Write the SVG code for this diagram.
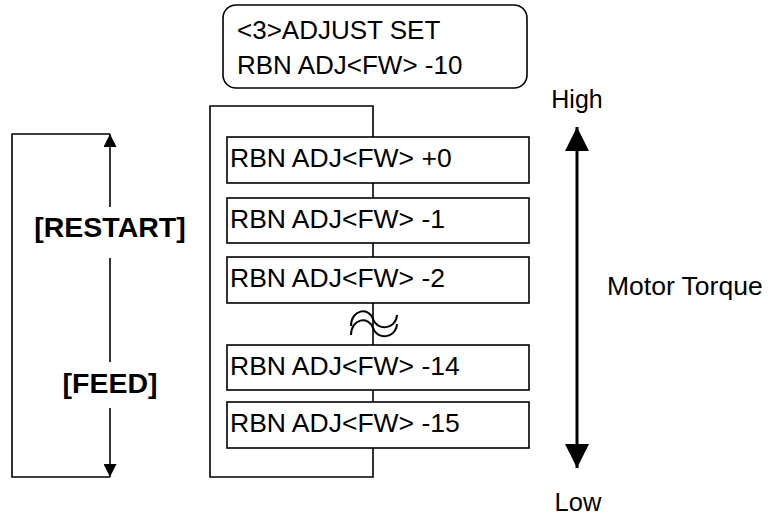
<svg xmlns="http://www.w3.org/2000/svg" width="779" height="515" viewBox="0 0 779 515">
<style>
  .t { font-family: "Liberation Sans", Arial, sans-serif; fill: #000; }
  .bx { fill: #fff; stroke: #000; stroke-width: 1.6; }
  .ln { fill: none; stroke: #000; stroke-width: 1.6; }
  .wv { fill: none; stroke: #000; stroke-width: 2; }
  .b { font-weight: bold; font-size: 28.5px; }
  .bt { font-size: 26.5px; }
</style>
<defs>
  <marker id="ah" viewBox="0 0 10 10" refX="10" refY="5" markerWidth="13" markerHeight="13" markerUnits="userSpaceOnUse" orient="auto">
    <path d="M0,0 L10,5 L0,10 Z" fill="#000"/>
  </marker>
  <marker id="ahb" viewBox="0 0 10 10" refX="10" refY="5" markerWidth="24" markerHeight="24" markerUnits="userSpaceOnUse" orient="auto">
    <path d="M0,0 L10,5 L0,10 Z" fill="#000"/>
  </marker>
</defs>

<g id="connectors">
  <!-- outer frame -->
  <path class="ln" d="M373,137 V106 H210 V477 H373 V448"/>
  <line class="ln" x1="373" y1="183" x2="373" y2="198"/>
  <line class="ln" x1="373" y1="243" x2="373" y2="257"/>
  <line class="ln" x1="373" y1="303" x2="373" y2="345"/>
  <line class="ln" x1="373" y1="390" x2="373" y2="402"/>
  <!-- break symbol -->
  <path class="wv" d="M351,326 C351,309 369,307 373,319 C377,331 396,330 397,315"/>
  <path class="wv" d="M351,335 C351,318 369,316 373,328 C377,340 396,339 397,324"/>
  <!-- left loop -->
  <path class="ln" d="M110,134 H12 V477 H110"/>
  <line class="ln" x1="110" y1="207" x2="110" y2="134" marker-end="url(#ah)"/>
  <line class="ln" x1="110" y1="258" x2="110" y2="362"/>
  <line class="ln" x1="110" y1="408" x2="110" y2="477" marker-end="url(#ah)"/>
  <!-- motor torque arrow -->
  <line x1="577" y1="300" x2="577" y2="127" stroke="#000" stroke-width="3" marker-end="url(#ahb)"/>
  <line x1="577" y1="300" x2="577" y2="468" stroke="#000" stroke-width="3" marker-end="url(#ahb)"/>
</g>

<g id="display">
  <rect class="bx" x="223" y="5" width="304" height="83" rx="13"/>
  <text class="t" x="237" y="39" font-size="26">&lt;3&gt;ADJUST SET</text>
  <text class="t" x="237" y="74" font-size="26">RBN ADJ&lt;FW&gt; -10</text>
</g>

<g id="n0">
  <rect class="bx" x="227" y="137" width="302" height="46"/>
  <text class="t bt" x="230" y="167">RBN ADJ&lt;FW&gt; +0</text>
</g>
<g id="n1">
  <rect class="bx" x="227" y="198" width="302" height="45"/>
  <text class="t bt" x="230" y="228">RBN ADJ&lt;FW&gt; -1</text>
</g>
<g id="n2">
  <rect class="bx" x="227" y="257" width="302" height="46"/>
  <text class="t bt" x="230" y="287">RBN ADJ&lt;FW&gt; -2</text>
</g>
<g id="n14">
  <rect class="bx" x="227" y="345" width="302" height="45"/>
  <text class="t bt" x="230" y="375">RBN ADJ&lt;FW&gt; -14</text>
</g>
<g id="n15">
  <rect class="bx" x="227" y="402" width="302" height="46"/>
  <text class="t bt" x="230" y="432">RBN ADJ&lt;FW&gt; -15</text>
</g>

<g id="labels">
  <text class="t b" x="110" y="237" text-anchor="middle">[RESTART]</text>
  <text class="t b" x="110" y="393" text-anchor="middle">[FEED]</text>
  <text class="t" x="577" y="108" font-size="25" text-anchor="middle">High</text>
  <text class="t" x="607" y="295" font-size="26.5">Motor Torque</text>
  <text class="t" x="578" y="511" font-size="25.5" text-anchor="middle">Low</text>
</g>
</svg>
